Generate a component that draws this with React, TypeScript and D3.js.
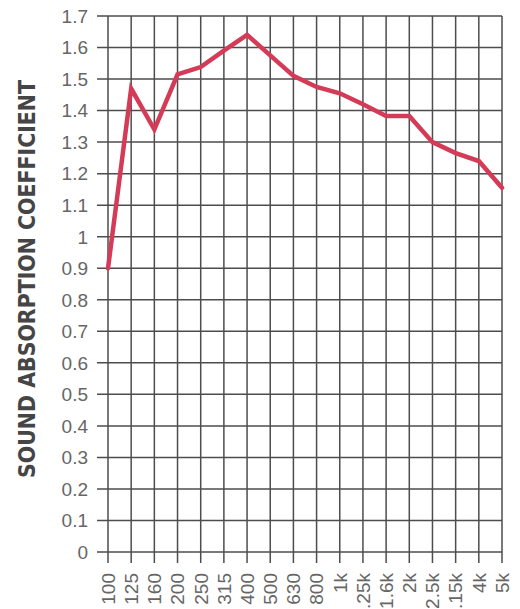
import * as React from "react";
import * as d3 from "d3";

// frequency bands (Hz) along the bottom
const bands = ["100", "125", "160", "200", "250", "315", "400", "500", "630", "800",
  "1k", "1.25k", "1.6k", "2k", "2.5k", "3.15k", "4k", "5k"];
// sound absorption coefficient per band
const coefficient = [0.9, 1.47, 1.34, 1.515, 1.538, 1.59, 1.64, 1.575, 1.51, 1.475,
  1.455, 1.42, 1.383, 1.383, 1.3, 1.265, 1.24, 1.155];
const yTicks = d3.range(0, 18).map((i) => i / 10);

const W = 520;
const H = 609;
const tickFont = "'Liberation Sans', Arial, sans-serif";
const titleFont = "'DejaVu Sans Condensed', 'Liberation Sans Narrow', 'Liberation Sans', sans-serif";

export default function App() {
  const x = d3.scalePoint<string>().domain(bands).range([108, 502]);
  const y = d3.scaleLinear().domain([0, 1.7]).range([552, 16]);
  const [x0, x1] = x.range();

  const line = d3.line<number>()
    .x((_, i) => x(bands[i]) as number)
    .y((d) => y(d));

  return (
    <svg width={W} height={H} style={{ position: "absolute", left: 0, top: 0, background: "#fff" }}>
      {/* horizontal grid + left ticks */}
      {yTicks.map((t) => (
        <g key={"h" + t}>
          <line x1={x0 - 11} x2={x1} y1={y(t)} y2={y(t)} stroke="#4d4d4d" strokeWidth={1.5} />
          <text x={88} y={y(t)} dy="0.36em" textAnchor="end" fontSize={19}
            fontFamily={tickFont} fill="#666">{d3.format("~g")(t)}</text>
        </g>
      ))}
      {/* vertical grid + bottom ticks */}
      {bands.map((b) => (
        <g key={"v" + b}>
          <line x1={x(b)} x2={x(b)} y1={y(1.7)} y2={y(0) + 11} stroke="#4d4d4d" strokeWidth={1.5} />
          <text transform={`translate(${x(b)},573) rotate(-90)`} dy="0.36em" textAnchor="end"
            fontSize={19} fontFamily={tickFont} fill="#666">{b}</text>
        </g>
      ))}
      <path d={line(coefficient) || ""} fill="none" stroke="#d43b57" strokeWidth={4.5}
        strokeLinejoin="miter" strokeLinecap="round" />
      <text transform="translate(27,279) rotate(-90)" dy="0.36em" textAnchor="middle"
        fontSize={23} fontWeight="bold" fontFamily={titleFont} fill="#454545"
        textLength={398} lengthAdjust="spacingAndGlyphs">SOUND ABSORPTION COEFFICIENT</text>
    </svg>
  );
}
